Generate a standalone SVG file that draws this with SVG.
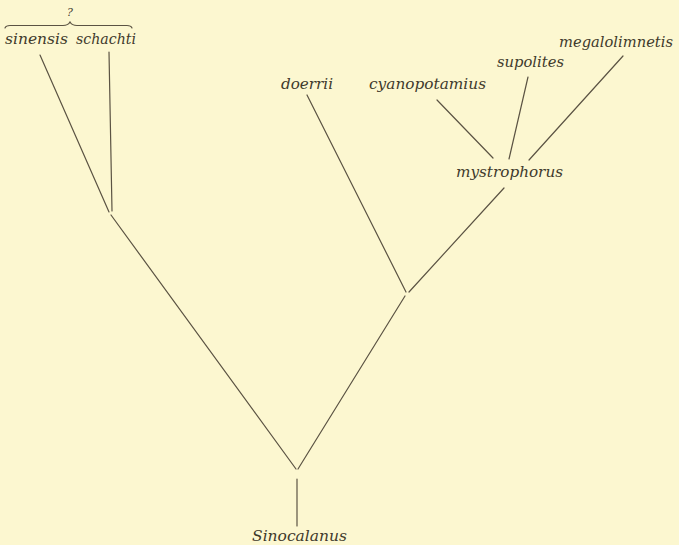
<svg xmlns="http://www.w3.org/2000/svg" width="679" height="545" viewBox="0 0 679 545">
  <style>
    .bg { fill: #fcf7d0; }
    .edge { stroke: #5b5343; stroke-width: 1.2; fill: none; stroke-linecap: round; }
    .lbl { font-family: "DejaVu Serif", "Liberation Serif", serif; font-style: italic; font-size: 15px; fill: #3f3a2c; }
    .q { font-family: "DejaVu Serif", "Liberation Serif", serif; font-style: italic; font-size: 11px; fill: #3f3a2c; }
  </style>
  <rect class="bg" x="0" y="0" width="679" height="545"/>

  <!-- branches of the tree -->
  <g id="connectors">
    <line class="edge" x1="297" y1="479" x2="297" y2="526"/>
    <line class="edge" x1="111" y1="215" x2="296" y2="469"/>
    <line class="edge" x1="298" y1="469" x2="405" y2="296"/>
    <line class="edge" x1="40" y1="55" x2="109" y2="212"/>
    <line class="edge" x1="109" y1="52" x2="112" y2="211"/>
    <line class="edge" x1="307" y1="95" x2="406" y2="292"/>
    <line class="edge" x1="504" y1="188" x2="409" y2="292"/>
    <line class="edge" x1="437" y1="100" x2="493" y2="158"/>
    <line class="edge" x1="528" y1="77" x2="509" y2="159"/>
    <line class="edge" x1="623" y1="56" x2="529" y2="160"/>
    <!-- brace over the two uncertain species -->
    <path class="edge" d="M5,28 Q6,25.5 10,25.5 L63,25.5 Q68,25.5 70,22 Q72,25.5 77,25.5 L127,25.5 Q131,25.5 132,28"/>
  </g>

  <g id="node-sinocalanus">
    <text class="lbl" x="252" y="541" textLength="95" lengthAdjust="spacingAndGlyphs">Sinocalanus</text>
  </g>
  <g id="node-uncertain">
    <text class="q" x="67" y="16">?</text>
  </g>
  <g id="node-sinensis">
    <text class="lbl" x="5" y="44" textLength="63" lengthAdjust="spacingAndGlyphs">sinensis</text>
  </g>
  <g id="node-schachti">
    <text class="lbl" x="76" y="44" textLength="60" lengthAdjust="spacingAndGlyphs">schachti</text>
  </g>
  <g id="node-doerrii">
    <text class="lbl" x="281" y="89" textLength="52" lengthAdjust="spacingAndGlyphs">doerrii</text>
  </g>
  <g id="node-cyanopotamius">
    <text class="lbl" x="369" y="89" textLength="117" lengthAdjust="spacingAndGlyphs">cyanopotamius</text>
  </g>
  <g id="node-supolites">
    <text class="lbl" x="497" y="67" textLength="67" lengthAdjust="spacingAndGlyphs">supolites</text>
  </g>
  <g id="node-megalolimnetis">
    <text class="lbl" x="559" y="47" textLength="114" lengthAdjust="spacingAndGlyphs">megalolimnetis</text>
  </g>
  <g id="node-mystrophorus">
    <text class="lbl" x="456" y="177" textLength="107" lengthAdjust="spacingAndGlyphs">mystrophorus</text>
  </g>
</svg>
